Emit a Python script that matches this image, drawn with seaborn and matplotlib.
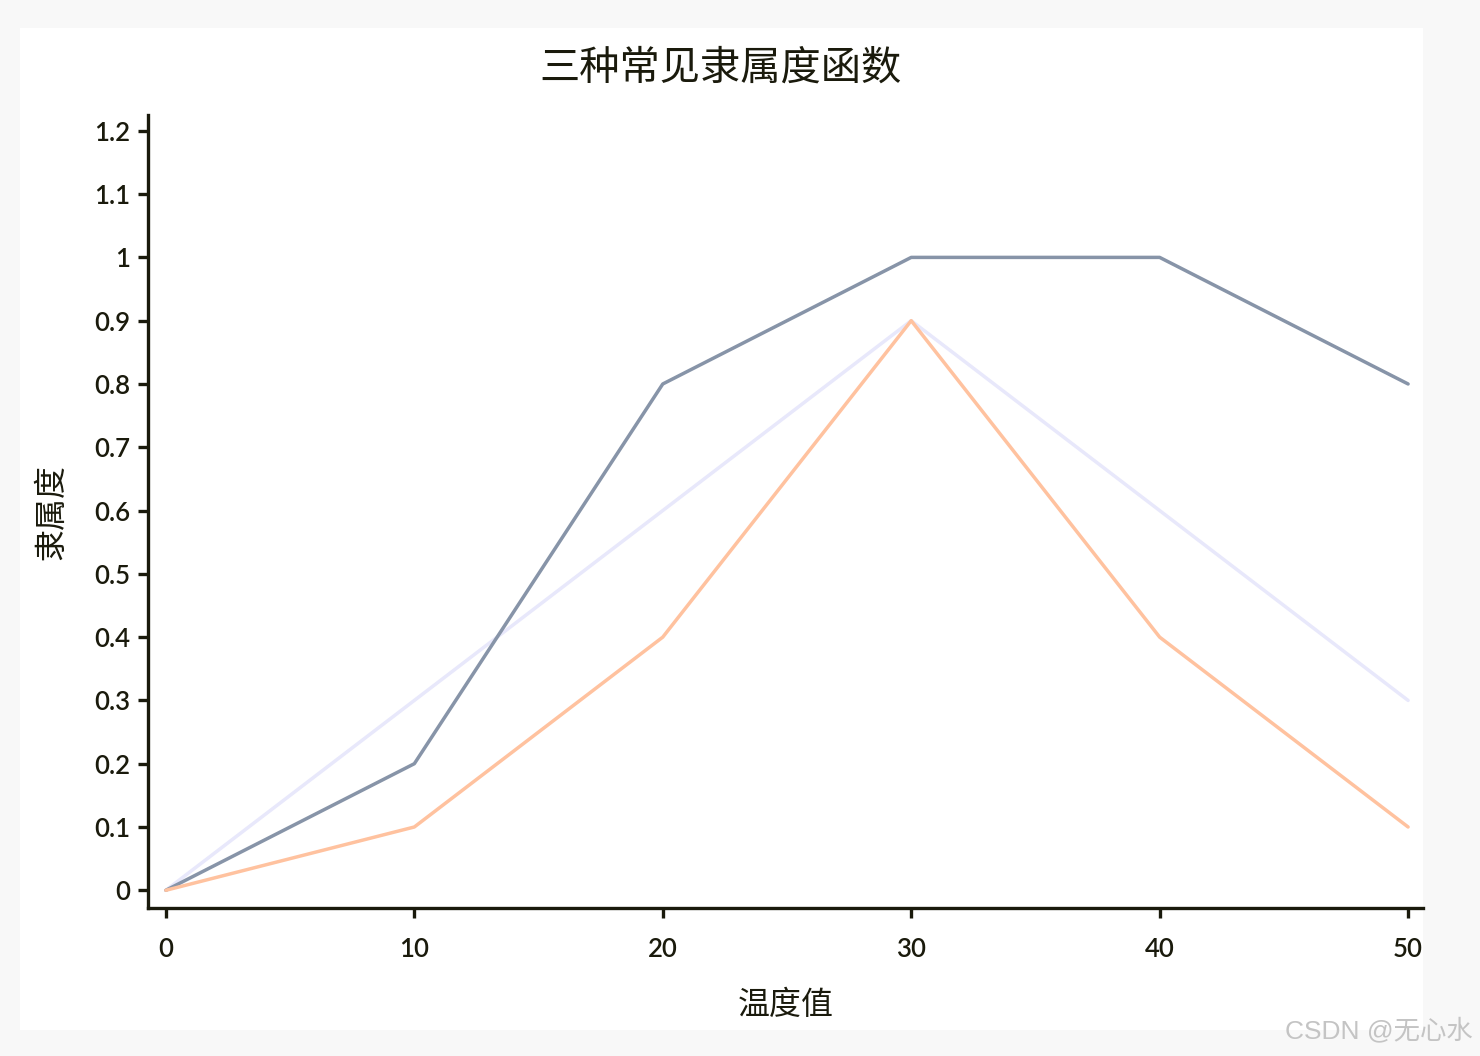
import matplotlib
matplotlib.use("Agg")
import matplotlib.pyplot as plt
import seaborn as sns
import pandas as pd
from matplotlib.patches import Rectangle

# ---- data ----
temps = [0, 10, 20, 30, 40, 50]
trapezoid = [0, 0.2, 0.8, 1.0, 1.0, 0.8]
triangle = [0, 0.3, 0.6, 0.9, 0.6, 0.3]
gaussian_like = [0, 0.1, 0.4, 0.9, 0.4, 0.1]
series_names = ["梯形", "三角形", "高斯形"]
y_ticks = [0, 0.1, 0.2, 0.3, 0.4, 0.5, 0.6, 0.7, 0.8, 0.9, 1, 1.1, 1.2]
y_ticklabels = ["0", "0.1", "0.2", "0.3", "0.4", "0.5", "0.6", "0.7", "0.8", "0.9", "1", "1.1", "1.2"]
x_ticks = [0, 10, 20, 30, 40, 50]

df = pd.DataFrame({
    "温度值": temps * 3,
    "隶属度": trapezoid + triangle + gaussian_like,
    "类型": [series_names[0]] * 6 + [series_names[1]] * 6 + [series_names[2]] * 6,
})

sns.set_theme(style="white")
plt.rcParams["font.family"] = ["Lato", "Noto Sans CJK SC", "DejaVu Sans"]

ink = "#1a1a0c"
palette = {series_names[0]: "#8794a8", series_names[1]: "#e8e8fb", series_names[2]: "#ffc29f"}

fig = plt.figure(figsize=(14.8, 10.56), dpi=100, facecolor="#f8f8f8")
fig.patches.append(Rectangle((20 / 1480, 1 - 1030 / 1056), (1423 - 20) / 1480, (1030 - 28) / 1056,
                             transform=fig.transFigure, facecolor="white", edgecolor="none", zorder=-5))
ax = fig.add_axes([148 / 1480, 1 - 908 / 1056, (1423 - 148) / 1480, (908 - 115) / 1056])
ax.set_zorder(2)
ax.set_facecolor("none")

sns.lineplot(data=df, x="温度值", y="隶属度", hue="类型", palette=palette,
             hue_order=[series_names[1], series_names[0], series_names[2]],
             linewidth=2.5, legend=False, ax=ax)

ax.set_xlim(-0.72, 50.6)
ax.set_ylim(-0.028, 1.225)
ax.set_xticks(x_ticks)
ax.set_yticks(y_ticks)
ax.set_yticklabels(y_ticklabels)

for s in ["top", "right"]:
    ax.spines[s].set_visible(False)
for s in ["left", "bottom"]:
    ax.spines[s].set_color(ink)
    ax.spines[s].set_linewidth(2.4)

ax.tick_params(axis="both", which="major", direction="out", length=7, width=2.4,
               color=ink, labelcolor=ink, labelsize=18.5, pad=6, left=True, bottom=True)
ax.tick_params(axis="x", pad=14)
for lab in ax.get_xticklabels() + ax.get_yticklabels():
    lab.set_fontweight("semibold")

ax.set_xlabel("温度值", fontsize=23, color=ink, labelpad=20, fontweight="medium")
ax.set_ylabel("隶属度", fontsize=23, color=ink, labelpad=20, fontweight="medium")

fig.text(721 / 1480, 1 - 68 / 1056, "三种常见隶属度函数", ha="center", va="center",
         fontsize=29, color=ink, fontweight="medium", zorder=5)

fig.text(1473 / 1480, 1 - 1030 / 1056, "CSDN @无心水", ha="right", va="center",
         fontsize=19, color="#c4c4c4", zorder=5,
         family=["Liberation Sans", "Noto Sans CJK SC"])

fig.savefig("out.png", dpi=100, facecolor=fig.get_facecolor())
